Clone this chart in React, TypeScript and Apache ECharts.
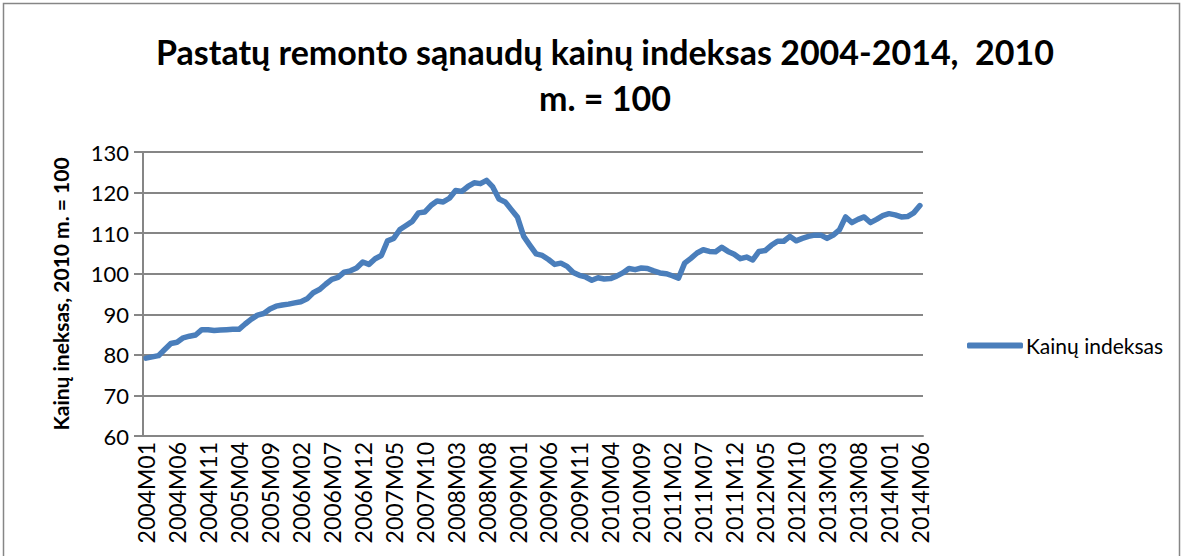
import React, { useEffect, useRef } from "react";
import * as echarts from "echarts";

const titleLines = ["Pastatų remonto sąnaudų kainų indeksas 2004-2014,  2010", "m. = 100"];
const yAxisName = "Kainų ineksas, 2010 m. = 100";
const seriesName = "Kainų indeksas";
const startYear = 2004;
const endYear = 2014;
const endMonth = 6;

const values: number[] = [
  79.2, 79.5, 79.8, 81.3, 82.8, 83.1, 84.2, 84.6, 84.9, 86.2, 86.2, 86.0,
  86.1, 86.2, 86.3, 86.3, 87.6, 88.8, 89.8, 90.2, 91.3, 92.0, 92.3, 92.5,
  92.8, 93.1, 93.8, 95.3, 96.1, 97.4, 98.6, 99.1, 100.4, 100.7, 101.4, 102.9,
  102.3, 103.7, 104.5, 108.1, 108.7, 110.9, 111.9, 112.9, 115.0, 115.2, 116.8, 117.9,
  117.7, 118.6, 120.5, 120.3, 121.5, 122.4, 122.2, 123.0, 121.4, 118.4, 117.7, 115.8,
  113.9, 109.2, 107.0, 104.9, 104.5, 103.5, 102.3, 102.6, 101.8, 100.3, 99.6, 99.2,
  98.4, 99.0, 98.7, 98.8, 99.4, 100.2, 101.3, 101.0, 101.4, 101.3, 100.7, 100.2,
  100.0, 99.5, 98.9, 102.6, 103.8, 105.1, 105.9, 105.5, 105.4, 106.5, 105.5, 104.8,
  103.7, 104.1, 103.4, 105.5, 105.7, 107.0, 108.0, 108.0, 109.2, 108.1, 108.7, 109.2,
  109.5, 109.5, 108.7, 109.5, 110.8, 114.0, 112.6, 113.4, 114.0, 112.6, 113.4, 114.3,
  114.8, 114.5, 114.0, 114.1, 115.0, 116.8,
];

const categories: string[] = [];
for (let y = startYear; y <= endYear; y++) {
  for (let m = 1; m <= 12; m++) {
    if (y === endYear && m > endMonth) break;
    categories.push(`${y}M${m < 10 ? "0" + m : m}`);
  }
}

const FONT = "Lato";
const GRAY = "#868686";

export default function App() {
  const ref = useRef<HTMLDivElement>(null);
  useEffect(() => {
    if (!ref.current) return;
    const chart = echarts.init(ref.current, undefined, { renderer: "svg" });
    chart.setOption({
      animation: false,
      backgroundColor: "#ffffff",
      textStyle: { fontFamily: FONT },
      title: {
        text: titleLines.join("\n"),
        left: 600,
        top: 23,
        textAlign: "center",
        textStyle: {
          fontFamily: FONT,
          fontWeight: "bold",
          fontSize: 34,
          lineHeight: 46,
          color: "#000",
        },
      },
      graphic: [
        {
          type: "rect",
          shape: { x: 3.5, y: 3.5, width: 1176, height: 620 },
          style: { fill: "none", stroke: GRAY, lineWidth: 1.5 },
          silent: true,
        },
      ],
      legend: {
        left: 962,
        top: 330,
        icon: "roundRect",
        itemWidth: 56,
        itemHeight: 6,
        itemGap: 4,
        textStyle: { fontFamily: FONT, fontSize: 21, color: "#000", padding: [0, 0, 0, -2] },
        data: [seriesName],
      },
      grid: { left: 143, right: 261, top: 152, bottom: 120, containLabel: false },
      xAxis: {
        type: "category",
        data: categories,
        boundaryGap: true,
        axisLine: { lineStyle: { color: GRAY, width: 2 } },
        axisTick: { show: false },
        axisLabel: {
          interval: 4,
          rotate: 90,
          fontFamily: FONT,
          fontSize: 23,
          color: "#000",
          margin: 6,
        },
        splitLine: { show: false },
      },
      yAxis: {
        type: "value",
        min: 60,
        max: 130,
        interval: 10,
        name: yAxisName,
        nameLocation: "middle",
        nameRotate: 90,
        nameGap: 72,
        nameTextStyle: { fontFamily: FONT, fontWeight: "bold", fontSize: 21, color: "#000" },
        axisLine: { show: true, lineStyle: { color: GRAY, width: 2 } },
        axisTick: { show: true, inside: false, length: 9, lineStyle: { color: GRAY, width: 2 } },
        axisLabel: { fontFamily: FONT, fontSize: 22, color: "#000", margin: 14 },
        splitLine: { show: true, lineStyle: { color: GRAY, width: 2 } },
      },
      series: [
        {
          name: seriesName,
          type: "line",
          data: values,
          showSymbol: false,
          symbol: "none",
          lineStyle: { color: "#4A7EBB", width: 5.5, join: "round", cap: "round" },
          itemStyle: { color: "#4A7EBB" },
        },
      ],
    });
    return () => chart.dispose();
  }, []);
  return (
    <div
      ref={ref}
      style={{ position: "absolute", left: 0, top: 0, width: 1184, height: 556 }}
    />
  );
}
